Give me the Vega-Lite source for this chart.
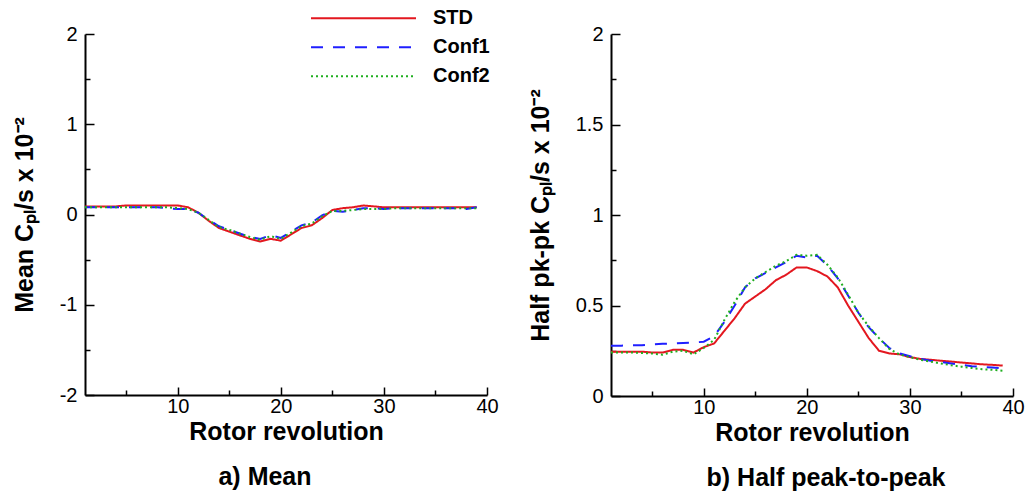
{
  "$schema": "https://vega.github.io/schema/vega-lite/v6.json",
  "background": "white",
  "padding": {"left": 12, "top": 4, "right": 5, "bottom": 5},
  "spacing": 29,
  "datasets": {
    "mean": [
      {"rev": 1, "value": 0.09, "config": "STD"}, {"rev": 2, "value": 0.09, "config": "STD"}, {"rev": 3, "value": 0.09, "config": "STD"}, {"rev": 4, "value": 0.09, "config": "STD"}, {"rev": 5, "value": 0.1, "config": "STD"}, {"rev": 6, "value": 0.1, "config": "STD"}, {"rev": 7, "value": 0.1, "config": "STD"}, {"rev": 8, "value": 0.1, "config": "STD"}, {"rev": 9, "value": 0.1, "config": "STD"}, {"rev": 10, "value": 0.1, "config": "STD"},
      {"rev": 11, "value": 0.08, "config": "STD"}, {"rev": 12, "value": 0.02, "config": "STD"}, {"rev": 13, "value": -0.07, "config": "STD"}, {"rev": 14, "value": -0.15, "config": "STD"}, {"rev": 15, "value": -0.19, "config": "STD"}, {"rev": 16, "value": -0.23, "config": "STD"}, {"rev": 17, "value": -0.27, "config": "STD"}, {"rev": 18, "value": -0.3, "config": "STD"}, {"rev": 19, "value": -0.27, "config": "STD"}, {"rev": 20, "value": -0.29, "config": "STD"},
      {"rev": 21, "value": -0.22, "config": "STD"}, {"rev": 22, "value": -0.15, "config": "STD"}, {"rev": 23, "value": -0.12, "config": "STD"}, {"rev": 24, "value": -0.04, "config": "STD"}, {"rev": 25, "value": 0.05, "config": "STD"}, {"rev": 26, "value": 0.07, "config": "STD"}, {"rev": 27, "value": 0.08, "config": "STD"}, {"rev": 28, "value": 0.1, "config": "STD"}, {"rev": 29, "value": 0.09, "config": "STD"}, {"rev": 30, "value": 0.08, "config": "STD"},
      {"rev": 31, "value": 0.08, "config": "STD"}, {"rev": 32, "value": 0.08, "config": "STD"}, {"rev": 33, "value": 0.08, "config": "STD"}, {"rev": 34, "value": 0.08, "config": "STD"}, {"rev": 35, "value": 0.08, "config": "STD"}, {"rev": 36, "value": 0.08, "config": "STD"}, {"rev": 37, "value": 0.08, "config": "STD"}, {"rev": 38, "value": 0.08, "config": "STD"}, {"rev": 39, "value": 0.08, "config": "STD"},

      {"rev": 1, "value": 0.08, "config": "Conf1"}, {"rev": 2, "value": 0.08, "config": "Conf1"}, {"rev": 3, "value": 0.08, "config": "Conf1"}, {"rev": 4, "value": 0.08, "config": "Conf1"}, {"rev": 5, "value": 0.08, "config": "Conf1"}, {"rev": 6, "value": 0.08, "config": "Conf1"}, {"rev": 7, "value": 0.08, "config": "Conf1"}, {"rev": 8, "value": 0.08, "config": "Conf1"}, {"rev": 9, "value": 0.07, "config": "Conf1"}, {"rev": 10, "value": 0.06, "config": "Conf1"},
      {"rev": 11, "value": 0.06, "config": "Conf1"}, {"rev": 12, "value": 0.02, "config": "Conf1"}, {"rev": 13, "value": -0.06, "config": "Conf1"}, {"rev": 14, "value": -0.13, "config": "Conf1"}, {"rev": 15, "value": -0.17, "config": "Conf1"}, {"rev": 16, "value": -0.21, "config": "Conf1"}, {"rev": 17, "value": -0.25, "config": "Conf1"}, {"rev": 18, "value": -0.27, "config": "Conf1"}, {"rev": 19, "value": -0.23, "config": "Conf1"}, {"rev": 20, "value": -0.26, "config": "Conf1"},
      {"rev": 21, "value": -0.19, "config": "Conf1"}, {"rev": 22, "value": -0.12, "config": "Conf1"}, {"rev": 23, "value": -0.09, "config": "Conf1"}, {"rev": 24, "value": -0.01, "config": "Conf1"}, {"rev": 25, "value": 0.04, "config": "Conf1"}, {"rev": 26, "value": 0.03, "config": "Conf1"}, {"rev": 27, "value": 0.05, "config": "Conf1"}, {"rev": 28, "value": 0.07, "config": "Conf1"}, {"rev": 29, "value": 0.07, "config": "Conf1"}, {"rev": 30, "value": 0.06, "config": "Conf1"},
      {"rev": 31, "value": 0.07, "config": "Conf1"}, {"rev": 32, "value": 0.07, "config": "Conf1"}, {"rev": 33, "value": 0.07, "config": "Conf1"}, {"rev": 34, "value": 0.07, "config": "Conf1"}, {"rev": 35, "value": 0.07, "config": "Conf1"}, {"rev": 36, "value": 0.07, "config": "Conf1"}, {"rev": 37, "value": 0.07, "config": "Conf1"}, {"rev": 38, "value": 0.06, "config": "Conf1"}, {"rev": 39, "value": 0.08, "config": "Conf1"},

      {"rev": 1, "value": 0.08, "config": "Conf2"}, {"rev": 2, "value": 0.08, "config": "Conf2"}, {"rev": 3, "value": 0.08, "config": "Conf2"}, {"rev": 4, "value": 0.08, "config": "Conf2"}, {"rev": 5, "value": 0.08, "config": "Conf2"}, {"rev": 6, "value": 0.08, "config": "Conf2"}, {"rev": 7, "value": 0.08, "config": "Conf2"}, {"rev": 8, "value": 0.08, "config": "Conf2"}, {"rev": 9, "value": 0.08, "config": "Conf2"}, {"rev": 10, "value": 0.07, "config": "Conf2"},
      {"rev": 11, "value": 0.06, "config": "Conf2"}, {"rev": 12, "value": 0.02, "config": "Conf2"}, {"rev": 13, "value": -0.06, "config": "Conf2"}, {"rev": 14, "value": -0.14, "config": "Conf2"}, {"rev": 15, "value": -0.17, "config": "Conf2"}, {"rev": 16, "value": -0.21, "config": "Conf2"}, {"rev": 17, "value": -0.25, "config": "Conf2"}, {"rev": 18, "value": -0.28, "config": "Conf2"}, {"rev": 19, "value": -0.24, "config": "Conf2"}, {"rev": 20, "value": -0.27, "config": "Conf2"},
      {"rev": 21, "value": -0.2, "config": "Conf2"}, {"rev": 22, "value": -0.13, "config": "Conf2"}, {"rev": 23, "value": -0.1, "config": "Conf2"}, {"rev": 24, "value": -0.02, "config": "Conf2"}, {"rev": 25, "value": 0.04, "config": "Conf2"}, {"rev": 26, "value": 0.04, "config": "Conf2"}, {"rev": 27, "value": 0.05, "config": "Conf2"}, {"rev": 28, "value": 0.06, "config": "Conf2"}, {"rev": 29, "value": 0.06, "config": "Conf2"}, {"rev": 30, "value": 0.06, "config": "Conf2"},
      {"rev": 31, "value": 0.07, "config": "Conf2"}, {"rev": 32, "value": 0.07, "config": "Conf2"}, {"rev": 33, "value": 0.07, "config": "Conf2"}, {"rev": 34, "value": 0.07, "config": "Conf2"}, {"rev": 35, "value": 0.07, "config": "Conf2"}, {"rev": 36, "value": 0.07, "config": "Conf2"}, {"rev": 37, "value": 0.07, "config": "Conf2"}, {"rev": 38, "value": 0.07, "config": "Conf2"}, {"rev": 39, "value": 0.07, "config": "Conf2"}
    ],
    "halfpk": [
      {"rev": 1, "value": 0.245, "config": "STD"}, {"rev": 2, "value": 0.245, "config": "STD"}, {"rev": 3, "value": 0.245, "config": "STD"}, {"rev": 4, "value": 0.245, "config": "STD"}, {"rev": 5, "value": 0.24, "config": "STD"}, {"rev": 6, "value": 0.24, "config": "STD"}, {"rev": 7, "value": 0.255, "config": "STD"}, {"rev": 8, "value": 0.255, "config": "STD"}, {"rev": 9, "value": 0.24, "config": "STD"}, {"rev": 10, "value": 0.27, "config": "STD"},
      {"rev": 11, "value": 0.29, "config": "STD"}, {"rev": 12, "value": 0.36, "config": "STD"}, {"rev": 13, "value": 0.43, "config": "STD"}, {"rev": 14, "value": 0.51, "config": "STD"}, {"rev": 15, "value": 0.55, "config": "STD"}, {"rev": 16, "value": 0.59, "config": "STD"}, {"rev": 17, "value": 0.64, "config": "STD"}, {"rev": 18, "value": 0.67, "config": "STD"}, {"rev": 19, "value": 0.71, "config": "STD"}, {"rev": 20, "value": 0.71, "config": "STD"},
      {"rev": 21, "value": 0.69, "config": "STD"}, {"rev": 22, "value": 0.66, "config": "STD"}, {"rev": 23, "value": 0.6, "config": "STD"}, {"rev": 24, "value": 0.5, "config": "STD"}, {"rev": 25, "value": 0.41, "config": "STD"}, {"rev": 26, "value": 0.32, "config": "STD"}, {"rev": 27, "value": 0.25, "config": "STD"}, {"rev": 28, "value": 0.235, "config": "STD"}, {"rev": 29, "value": 0.23, "config": "STD"}, {"rev": 30, "value": 0.215, "config": "STD"},
      {"rev": 31, "value": 0.205, "config": "STD"}, {"rev": 32, "value": 0.2, "config": "STD"}, {"rev": 33, "value": 0.195, "config": "STD"}, {"rev": 34, "value": 0.19, "config": "STD"}, {"rev": 35, "value": 0.185, "config": "STD"}, {"rev": 36, "value": 0.18, "config": "STD"}, {"rev": 37, "value": 0.175, "config": "STD"}, {"rev": 38, "value": 0.172, "config": "STD"}, {"rev": 39, "value": 0.168, "config": "STD"},

      {"rev": 1, "value": 0.278, "config": "Conf1"}, {"rev": 2, "value": 0.278, "config": "Conf1"}, {"rev": 3, "value": 0.28, "config": "Conf1"}, {"rev": 4, "value": 0.28, "config": "Conf1"}, {"rev": 5, "value": 0.285, "config": "Conf1"}, {"rev": 6, "value": 0.288, "config": "Conf1"}, {"rev": 7, "value": 0.29, "config": "Conf1"}, {"rev": 8, "value": 0.293, "config": "Conf1"}, {"rev": 9, "value": 0.295, "config": "Conf1"}, {"rev": 10, "value": 0.3, "config": "Conf1"},
      {"rev": 11, "value": 0.33, "config": "Conf1"}, {"rev": 12, "value": 0.41, "config": "Conf1"}, {"rev": 13, "value": 0.5, "config": "Conf1"}, {"rev": 14, "value": 0.6, "config": "Conf1"}, {"rev": 15, "value": 0.65, "config": "Conf1"}, {"rev": 16, "value": 0.68, "config": "Conf1"}, {"rev": 17, "value": 0.71, "config": "Conf1"}, {"rev": 18, "value": 0.74, "config": "Conf1"}, {"rev": 19, "value": 0.775, "config": "Conf1"}, {"rev": 20, "value": 0.765, "config": "Conf1"},
      {"rev": 21, "value": 0.775, "config": "Conf1"}, {"rev": 22, "value": 0.72, "config": "Conf1"}, {"rev": 23, "value": 0.65, "config": "Conf1"}, {"rev": 24, "value": 0.555, "config": "Conf1"}, {"rev": 25, "value": 0.46, "config": "Conf1"}, {"rev": 26, "value": 0.38, "config": "Conf1"}, {"rev": 27, "value": 0.32, "config": "Conf1"}, {"rev": 28, "value": 0.265, "config": "Conf1"}, {"rev": 29, "value": 0.235, "config": "Conf1"}, {"rev": 30, "value": 0.22, "config": "Conf1"},
      {"rev": 31, "value": 0.205, "config": "Conf1"}, {"rev": 32, "value": 0.195, "config": "Conf1"}, {"rev": 33, "value": 0.188, "config": "Conf1"}, {"rev": 34, "value": 0.18, "config": "Conf1"}, {"rev": 35, "value": 0.172, "config": "Conf1"}, {"rev": 36, "value": 0.165, "config": "Conf1"}, {"rev": 37, "value": 0.16, "config": "Conf1"}, {"rev": 38, "value": 0.158, "config": "Conf1"}, {"rev": 39, "value": 0.152, "config": "Conf1"},

      {"rev": 1, "value": 0.24, "config": "Conf2"}, {"rev": 2, "value": 0.24, "config": "Conf2"}, {"rev": 3, "value": 0.24, "config": "Conf2"}, {"rev": 4, "value": 0.238, "config": "Conf2"}, {"rev": 5, "value": 0.235, "config": "Conf2"}, {"rev": 6, "value": 0.228, "config": "Conf2"}, {"rev": 7, "value": 0.245, "config": "Conf2"}, {"rev": 8, "value": 0.25, "config": "Conf2"}, {"rev": 9, "value": 0.23, "config": "Conf2"}, {"rev": 10, "value": 0.265, "config": "Conf2"},
      {"rev": 11, "value": 0.31, "config": "Conf2"}, {"rev": 12, "value": 0.42, "config": "Conf2"}, {"rev": 13, "value": 0.52, "config": "Conf2"}, {"rev": 14, "value": 0.6, "config": "Conf2"}, {"rev": 15, "value": 0.65, "config": "Conf2"}, {"rev": 16, "value": 0.685, "config": "Conf2"}, {"rev": 17, "value": 0.72, "config": "Conf2"}, {"rev": 18, "value": 0.745, "config": "Conf2"}, {"rev": 19, "value": 0.78, "config": "Conf2"}, {"rev": 20, "value": 0.775, "config": "Conf2"},
      {"rev": 21, "value": 0.78, "config": "Conf2"}, {"rev": 22, "value": 0.725, "config": "Conf2"}, {"rev": 23, "value": 0.655, "config": "Conf2"}, {"rev": 24, "value": 0.56, "config": "Conf2"}, {"rev": 25, "value": 0.46, "config": "Conf2"}, {"rev": 26, "value": 0.385, "config": "Conf2"}, {"rev": 27, "value": 0.32, "config": "Conf2"}, {"rev": 28, "value": 0.26, "config": "Conf2"}, {"rev": 29, "value": 0.23, "config": "Conf2"}, {"rev": 30, "value": 0.215, "config": "Conf2"},
      {"rev": 31, "value": 0.2, "config": "Conf2"}, {"rev": 32, "value": 0.19, "config": "Conf2"}, {"rev": 33, "value": 0.18, "config": "Conf2"}, {"rev": 34, "value": 0.17, "config": "Conf2"}, {"rev": 35, "value": 0.162, "config": "Conf2"}, {"rev": 36, "value": 0.155, "config": "Conf2"}, {"rev": 37, "value": 0.148, "config": "Conf2"}, {"rev": 38, "value": 0.145, "config": "Conf2"}, {"rev": 39, "value": 0.14, "config": "Conf2"}
    ]
  },
  "hconcat": [
    {
      "width": 402,
      "height": 361,
      "data": {"name": "mean"},
      "title": {"text": "a) Mean", "orient": "bottom", "anchor": "middle", "frame": "group", "dx": -21, "offset": 21},
      "mark": {"type": "line", "strokeWidth": 2},
      "encoding": {
        "x": {
          "field": "rev", "type": "quantitative",
          "scale": {"domain": [1, 40], "nice": false, "zero": false},
          "axis": {
            "title": "Rotor revolution",
            "values": [5, 10, 15, 20, 25, 30, 35, 40],
            "labelExpr": "datum.value % 10 === 0 ? '' + datum.value : ''",
            "tickSize": {"condition": {"test": "datum.value % 10 === 0", "value": -8}, "value": -5},
            "labelPadding": 9,
            "titlePadding": 0
          }
        },
        "y": {
          "field": "value", "type": "quantitative",
          "scale": {"domain": [-2, 2], "nice": false},
          "axis": {
            "title": "Mean Cₚₗ/s x 10⁻²",
            "values": [-2, -1.5, -1, -0.5, 0, 0.5, 1, 1.5, 2],
            "labelExpr": "datum.value % 1 === 0 ? '' + datum.value : ''",
            "tickSize": {"condition": {"test": "datum.value % 1 === 0", "value": -9}, "value": -5},
            "labelPadding": 17,
            "titlePadding": 22
          }
        },
        "color": {
          "field": "config", "type": "nominal",
          "scale": {"domain": ["STD", "Conf1", "Conf2"], "range": ["#e3171f", "#1f1fff", "#1fae1f"]},
          "legend": {"title": null, "orient": "none", "legendX": 225, "legendY": -30, "symbolType": "stroke", "symbolSize": 11025, "symbolStrokeWidth": 2, "clipHeight": 28.5, "labelOffset": 16, "rowPadding": 0, "padding": 0}
        },
        "strokeDash": {
          "field": "config", "type": "nominal",
          "scale": {"domain": ["STD", "Conf1", "Conf2"], "range": [[1, 0], [12, 10], [2, 3]]},
          "legend": {"title": null, "orient": "none", "legendX": 225, "legendY": -30, "symbolType": "stroke", "symbolSize": 11025, "symbolStrokeWidth": 2, "clipHeight": 28.5, "labelOffset": 16, "rowPadding": 0, "padding": 0}
        }
      }
    },
    {
      "width": 402,
      "height": 362,
      "data": {"name": "halfpk"},
      "title": {"text": "b) Half peak-to-peak", "orient": "bottom", "anchor": "middle", "frame": "group", "dx": 14, "offset": 21},
      "mark": {"type": "line", "strokeWidth": 2},
      "encoding": {
        "x": {
          "field": "rev", "type": "quantitative",
          "scale": {"domain": [1, 40], "nice": false, "zero": false},
          "axis": {
            "title": "Rotor revolution",
            "values": [5, 10, 15, 20, 25, 30, 35, 40],
            "labelExpr": "datum.value % 10 === 0 ? '' + datum.value : ''",
            "tickSize": {"condition": {"test": "datum.value % 10 === 0", "value": -8}, "value": -5},
            "labelPadding": 9,
            "titlePadding": 0
          }
        },
        "y": {
          "field": "value", "type": "quantitative",
          "scale": {"domain": [0, 2], "nice": false},
          "axis": {
            "title": "Half pk-pk Cₚₗ/s x 10⁻²",
            "values": [0, 0.25, 0.5, 0.75, 1, 1.25, 1.5, 1.75, 2],
            "labelExpr": "datum.value % 0.5 === 0 ? '' + datum.value : ''",
            "tickSize": {"condition": {"test": "datum.value % 0.5 === 0", "value": -9}, "value": -5},
            "labelPadding": 17,
            "titlePadding": 22
          }
        },
        "color": {
          "field": "config", "type": "nominal",
          "scale": {"domain": ["STD", "Conf1", "Conf2"], "range": ["#e3171f", "#1f1fff", "#1fae1f"]},
          "legend": null
        },
        "strokeDash": {
          "field": "config", "type": "nominal",
          "scale": {"domain": ["STD", "Conf1", "Conf2"], "range": [[1, 0], [12, 10], [2, 3]]},
          "legend": null
        }
      }
    }
  ],
  "resolve": {"legend": {"color": "independent", "strokeDash": "independent"}},
  "config": {
    "view": {"stroke": null},
    "font": "Liberation Sans",
    "axis": {
      "grid": false,
      "domainColor": "black",
      "domainWidth": 2,
      "tickColor": "black",
      "tickWidth": 1.5,
      "labelFont": "Liberation Sans",
      "labelFontSize": 20,
      "labelColor": "black",
      "labelOverlap": false,
      "labelFlush": false,
      "titleFont": "Liberation Sans",
      "titleFontSize": 25,
      "titleFontWeight": "bold",
      "titleColor": "black"
    },
    "legend": {
      "labelFont": "Liberation Sans",
      "labelFontSize": 20,
      "labelFontWeight": "bold",
      "labelColor": "black"
    },
    "title": {
      "font": "Liberation Sans",
      "fontSize": 25,
      "fontWeight": "bold",
      "color": "black"
    }
  }
}
